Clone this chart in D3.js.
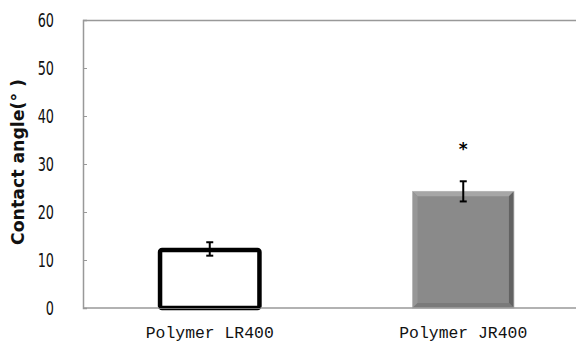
<!DOCTYPE html>
<html>
<head>
<meta charset="utf-8">
<script src="https://cdn.jsdelivr.net/npm/d3@7"></script>
<style>
  body { margin: 0; background: #fff; }
  svg { display: block; }
</style>
</head>
<body>
<div id="chart"></div>
<script>
const categories = ["Polymer LR400", "Polymer JR400"];
const values = [12.3, 24.3];
const errors = [1.4, 2.1];
const marks = ["", "*"];
const yTicks = [0, 10, 20, 30, 40, 50, 60];

const W = 576, H = 342;
const margin = { top: 20, right: -14, bottom: 34, left: 83 };
const width = W - margin.left - margin.right,
    height = H - margin.top - margin.bottom;

const narrow = "'DejaVu Sans Condensed', 'DejaVu Sans', sans-serif";
const tickScale = 0.75;

const svg = d3.select("#chart").append("svg")
    .attr("width", W)
    .attr("height", H);
const g = svg.append("g")
    .attr("transform", "translate(" + margin.left + "," + margin.top + ")");

const x = d3.scaleBand().domain(categories).range([0, width]).paddingInner(0.6).paddingOuter(0.3);
const y = d3.scaleLinear().domain([0, 60]).range([height, 0]);

// frame: top border and left axis
g.append("line").attr("x1", 0).attr("x2", width).attr("y1", 0.5).attr("y2", 0.5)
    .attr("stroke", "#999").attr("stroke-width", 1.5);

const yAxis = g.append("g")
    .call(d3.axisLeft(y).tickValues(yTicks).tickSize(-4));
yAxis.select(".domain").attr("stroke", "#999").attr("stroke-width", 1.5);
yAxis.selectAll(".tick line").attr("stroke", "#999");
yAxis.selectAll(".tick text")
    .attr("font-family", narrow)
    .attr("font-stretch", "condensed")
    .attr("font-size", 19)
    .attr("fill", "#111")
    .attr("dy", "0.36em")
    .attr("transform", "scale(" + tickScale + ",1)")
    .attr("x", -29 / tickScale);

g.append("text")
    .attr("transform", "translate(" + (-59) + "," + (y(30) - 2) + ") rotate(-90)")
    .attr("text-anchor", "middle")
    .attr("font-family", narrow)
    .attr("font-stretch", "condensed")
    .attr("font-size", 18)
    .attr("font-weight", "bold")
    .attr("textLength", 166)
    .attr("lengthAdjust", "spacingAndGlyphs")
    .attr("fill", "#111")
    .text("Contact angle(° )");

// bars
const bw = x.bandwidth();
categories.forEach((c, i) => {
    const x0 = x(c), y0 = y(values[i]), h = y(0) - y(values[i]);
    if (i === 0) {
        g.append("rect")
            .attr("x", x0 + 1).attr("y", y0 + 1)
            .attr("width", bw - 2).attr("height", h - 1)
            .attr("rx", 2)
            .attr("fill", "#fff").attr("stroke", "#000").attr("stroke-width", 4.5);
    } else {
        const b = 5;
        g.append("rect")
            .attr("x", x0).attr("y", y0).attr("width", bw).attr("height", h)
            .attr("fill", "#8a8a8a");
        const x1 = x0 + bw, y1 = y(0);
        const bevel = [
            { pts: [[x0, y0], [x1, y0], [x1 - b, y0 + b], [x0 + b, y0 + b]], fill: "#a6a6a6" },
            { pts: [[x0, y0], [x0 + b, y0 + b], [x0 + b, y1 - b], [x0, y1]], fill: "#979797" },
            { pts: [[x1, y0], [x1, y1], [x1 - b, y1 - b], [x1 - b, y0 + b]], fill: "#626262" },
            { pts: [[x0, y1], [x0 + b, y1 - b], [x1 - b, y1 - b], [x1, y1]], fill: "#7a7a7a" }
        ];
        bevel.forEach(p => {
            g.append("polygon").attr("points", p.pts.map(d => d.join(",")).join(" "))
                .attr("fill", p.fill);
        });
        g.append("rect")
            .attr("x", x0).attr("y", y0).attr("width", bw).attr("height", h)
            .attr("fill", "none").attr("stroke", "#bbb").attr("stroke-width", 0.8);
    }
});

// baseline
g.append("line").attr("x1", 0).attr("x2", width).attr("y1", y(0)).attr("y2", y(0))
    .attr("stroke", "#999").attr("stroke-width", 1.5);
g.append("line").attr("x1", x(categories[0])).attr("x2", x(categories[0]) + bw)
    .attr("y1", y(0) - 1).attr("y2", y(0) - 1)
    .attr("stroke", "#000").attr("stroke-width", 2);

// error bars
categories.forEach((c, i) => {
    const cx = x(c) + bw / 2;
    const eg = g.append("g").attr("stroke", "#000").attr("stroke-width", 2);
    eg.append("line").attr("x1", cx).attr("x2", cx)
        .attr("y1", y(values[i] + errors[i])).attr("y2", y(values[i] - errors[i]));
    [values[i] + errors[i], values[i] - errors[i]].forEach(v => {
        eg.append("line").attr("x1", cx - 3.5).attr("x2", cx + 3.5)
            .attr("y1", y(v)).attr("y2", y(v));
    });
    if (marks[i]) {
        g.append("text").attr("x", cx).attr("y", y(values[i] + errors[i]) - 26)
            .attr("text-anchor", "middle")
            .attr("font-family", "DejaVu Sans, sans-serif")
            .attr("font-weight", "bold")
            .attr("font-size", 17)
            .attr("fill", "#000")
            .text(marks[i]);
    }
});

// category labels
g.selectAll(".cat").data(categories).enter().append("text")
    .attr("class", "cat")
    .attr("x", d => x(d) + bw / 2)
    .attr("y", height + 30)
    .attr("text-anchor", "middle")
    .attr("font-family", "'Liberation Mono', 'DejaVu Sans Mono', monospace")
    .attr("font-size", 17)
    .attr("textLength", 128)
    .attr("lengthAdjust", "spacingAndGlyphs")
    .attr("fill", "#111")
    .text(d => d);
</script>
</body>
</html>
